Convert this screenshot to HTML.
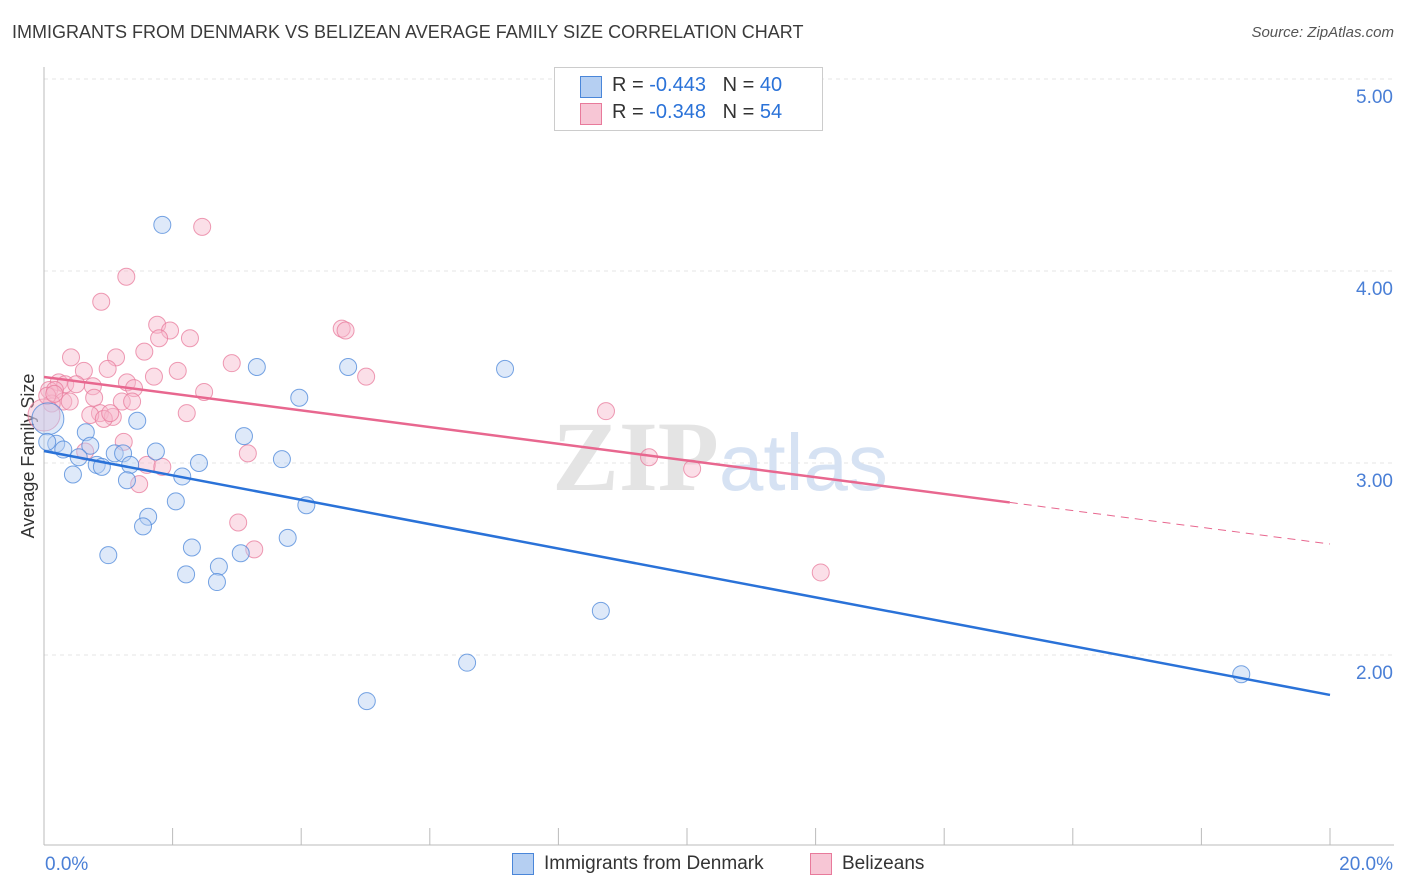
<!DOCTYPE html>
<html><head><meta charset="utf-8"><style>
body{margin:0;background:#fff;font-family:"Liberation Sans",sans-serif;}
#wrap{position:relative;width:1406px;height:892px;overflow:hidden;}
.t{position:absolute;white-space:nowrap;}
</style></head><body>
<div id="wrap">
<div class="t" style="left:12px;top:22px;font-size:18px;color:#3a3a3a;">IMMIGRANTS FROM DENMARK VS BELIZEAN AVERAGE FAMILY SIZE CORRELATION CHART</div>
<div class="t" style="right:12px;top:24px;font-size:15px;color:#555;font-style:italic;">Source: ZipAtlas.com</div>
<svg id="svg" width="1406" height="892" style="position:absolute;left:0;top:0"></svg>
</div>
<script>
const yTicks=[2,3,4,5];
const yTickLabels=["2.00","3.00","4.00","5.00"];
const xTickLabels=["0.0%","20.0%"];
const blueX=[1.84,3.31,4.73,7.17,3.97,1.45,3.11,0.65,0.19,0.30,0.72,1.74,1.10,1.23,0.54,3.70,2.41,0.82,1.34,0.90,0.45,2.15,1.29,2.05,4.08,1.62,1.54,3.79,2.30,3.06,1.00,2.72,2.21,2.69,8.66,6.58,5.02,18.62,0.06,0.05];
const blueY=[4.24,3.50,3.50,3.49,3.34,3.22,3.14,3.16,3.10,3.07,3.09,3.06,3.05,3.05,3.03,3.02,3.00,2.99,2.99,2.98,2.94,2.93,2.91,2.80,2.78,2.72,2.67,2.61,2.56,2.53,2.52,2.46,2.42,2.38,2.23,1.96,1.76,1.90,3.23,3.11];
const pinkX=[2.46,1.28,0.89,1.76,1.96,4.63,4.69,1.79,2.27,1.56,0.42,1.12,2.92,0.62,0.99,2.08,1.71,5.01,0.23,0.33,0.50,1.29,0.76,1.40,0.08,0.17,2.49,0.78,0.30,0.12,1.21,1.37,0.40,2.22,0.87,1.07,0.72,8.74,0.93,1.24,0.64,3.17,9.41,1.60,1.84,10.08,1.48,3.02,3.27,12.08,0.0,0.05,0.16,1.03];
const pinkY=[4.23,3.97,3.84,3.72,3.69,3.70,3.69,3.65,3.65,3.58,3.55,3.55,3.52,3.48,3.49,3.48,3.45,3.45,3.42,3.41,3.41,3.42,3.40,3.39,3.38,3.38,3.37,3.34,3.32,3.31,3.32,3.32,3.32,3.26,3.26,3.24,3.25,3.27,3.23,3.11,3.06,3.05,3.03,2.99,2.98,2.97,2.89,2.69,2.55,2.43,3.25,3.35,3.36,3.26];
const blueBig=[38];const pinkBig=[50];
const blueTrend=[3.0625,1.792];const pinkTrend=[3.448,2.578];const pinkSolidEnd=15.02;
const X0=44,X1=1330;
function xs(p){return X0+(X1-X0)*p/20;}
function ys(v){return 79+(5-v)*192;}
const svg=document.getElementById('svg');const NS="http://www.w3.org/2000/svg";
function mk(t,a,name,par){const e=document.createElementNS(NS,t);for(const k in a)e.setAttribute(k,a[k]);


(par||svg).appendChild(e);return e;}
yTicks.forEach((v,i)=>{mk('line',{x1:44,x2:1394,y1:ys(v),y2:ys(v),stroke:'#e4e4e4','stroke-dasharray':'4,4'},'gridline');
const t=mk('text',{x:1393,y:ys(v)+24,'text-anchor':'end','font-size':19,fill:'#4a7fd6'},'y-tick-label');t.textContent=yTickLabels[i];});
mk('line',{x1:44,x2:44,y1:67,y2:845,stroke:'#bbb'},'y-axis');
mk('line',{x1:44,x2:1394,y1:845,y2:845,stroke:'#bbb'},'x-axis');
for(let i=0;i<=10;i++){mk('line',{x1:xs(i*2),x2:xs(i*2),y1:828,y2:845,stroke:'#bbb'},'x-tick');}
let t=mk('text',{x:45,y:870,'font-size':19,fill:'#4a7fd6'},'x-tick-label');t.textContent=xTickLabels[0];
t=mk('text',{x:1393,y:870,'text-anchor':'end','font-size':19,fill:'#4a7fd6'},'x-tick-label');t.textContent=xTickLabels[1];
t=mk('text',{x:34,y:456,'text-anchor':'middle','font-size':18,fill:'#333',transform:'rotate(-90 34 456)'},'y-axis-title');t.textContent='Average Family Size';
t=mk('text',{x:720,y:490,'text-anchor':'middle','font-size':100,fill:'#e4e4e4','font-family':'Liberation Serif','font-weight':'bold'},'watermark');
t.innerHTML='ZIP<tspan font-family="Liberation Sans" font-weight="normal" fill="#d6e2f3" font-size="80">atlas</tspan>';
function dots(X,Y,big,fill,stroke,name){X.forEach((x,i)=>{mk('circle',{cx:xs(x),cy:ys(Y[i]),r:big.includes(i)?16:8.5,fill:fill,'fill-opacity':0.45,stroke:stroke,'stroke-opacity':0.75,'stroke-width':1},name);});}
dots(pinkX,pinkY,pinkBig,'#f7b8cb','#e87a9b','belizean-point');
dots(blueX,blueY,blueBig,'#b5cff2','#4a86d9','denmark-point');
mk('line',{x1:xs(0),y1:ys(blueTrend[0]),x2:xs(20),y2:ys(blueTrend[1]),stroke:'#2a72d8','stroke-width':2.5},'denmark-trendline');
const pm=pinkTrend[0]+(pinkTrend[1]-pinkTrend[0])*pinkSolidEnd/20;
mk('line',{x1:xs(0),y1:ys(pinkTrend[0]),x2:xs(pinkSolidEnd),y2:ys(pm),stroke:'#e8678f','stroke-width':2.5},'belizean-trendline');
mk('line',{x1:xs(pinkSolidEnd),y1:ys(pm),x2:xs(20),y2:ys(pinkTrend[1]),stroke:'#e8678f','stroke-width':1,'stroke-dasharray':'8,6'},'belizean-trend-extension');
</script>
<div class="t" style="left:554px;top:67px;width:267px;height:62px;border:1px solid #ccc;background:#fff;">
<div class="t" style="left:25px;top:8px;width:20px;height:20px;background:#b5cff2;border:1px solid #4a86d9;"></div>
<div class="t" style="left:57px;top:6px;font-size:20px;color:#333;">R = <span style="color:#2a72d8">-0.443</span>&nbsp;&nbsp;&nbsp;N = <span style="color:#2a72d8">40</span></div>
<div class="t" style="left:25px;top:35px;width:20px;height:20px;background:#f7c6d5;border:1px solid #e87a9b;"></div>
<div class="t" style="left:57px;top:33px;font-size:20px;color:#333;">R = <span style="color:#2a72d8">-0.348</span>&nbsp;&nbsp;&nbsp;N = <span style="color:#2a72d8">54</span></div>
</div>
<div class="t" style="left:512px;top:853px;width:20px;height:20px;background:#b5cff2;border:1px solid #4a86d9;"></div>
<div class="t" style="left:544px;top:853px;font-size:19px;color:#333;">Immigrants from Denmark</div>
<div class="t" style="left:810px;top:853px;width:20px;height:20px;background:#f7c6d5;border:1px solid #e87a9b;"></div>
<div class="t" style="left:842px;top:853px;font-size:19px;color:#333;">Belizeans</div>
</body></html>
